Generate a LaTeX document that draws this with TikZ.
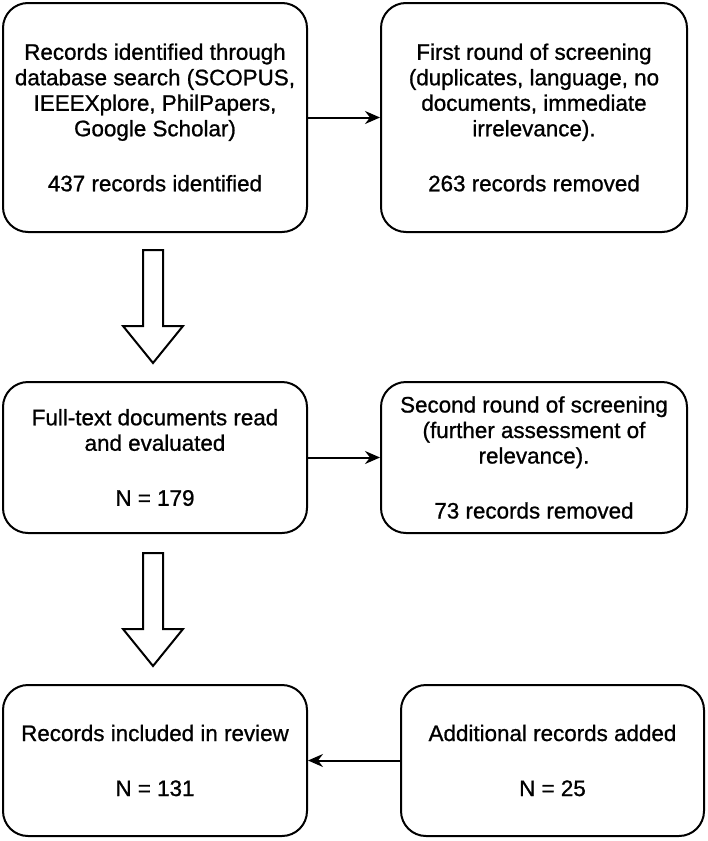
\documentclass[tikz,border=0pt]{standalone}
\usepackage{fontspec}
\setmainfont{Liberation Sans}[FakeBold=0.9]
\usetikzlibrary{arrows.meta}
\tikzset{
  box/.style={draw, line width=2pt, rounded corners=25pt, align=center,
    font=\fontsize{22.4pt}{25.5pt}\selectfont, inner sep=0pt, fill=white},
  conn/.style={line width=2pt, -{Stealth[length=15pt,width=13pt,inset=5pt]}},
  hollow/.style={draw, line width=2pt, fill=white, line join=miter}
}
\begin{document}
\begin{tikzpicture}[x=1pt,y=-1pt]
\useasboundingbox (0,0) rectangle (708,841);
\node[box, minimum width=304pt, minimum height=229pt] (A) at (155,117.5)
  {Records identified through\\database search (SCOPUS,\\IEEEXplore, PhilPapers,\\Google Scholar)\\[29.5pt]437 records identified};
\node[box, minimum width=306pt, minimum height=229pt] (B) at (534,117.5)
  {First round of screening\\(duplicates, language, no\\documents, immediate\\irrelevance).\\[29.5pt]263 records removed};
\node[box, minimum width=304pt, minimum height=151pt] (C) at (155,457.5)
  {Full-text documents read\\and evaluated\\[29.5pt]N = 179};
\node[box, minimum width=306pt, minimum height=151pt] (D) at (534,457.5)
  {Second round of screening\\(further assessment of\\relevance).\\[29.5pt]73 records removed};
\node[box, minimum width=304pt, minimum height=151pt] (E) at (155,760.5)
  {Records included in review\\[29.5pt]N = 131};
\node[box, minimum width=303pt, minimum height=151pt] (F) at (552.5,760.5)
  {Additional records added\\[29.5pt]N = 25};
\draw[conn] (A.east) -- (B.west);
\draw[conn] (C.east) -- (D.west);
\draw[conn] (F.west) -- (E.east);
% hollow block arrows
\draw[hollow] (143,250) -- (163,250) -- (163,326) -- (183,326) -- (153,363)
  -- (123,326) -- (143,326) -- cycle;
\draw[hollow] (143,553) -- (163,553) -- (163,629) -- (183,629) -- (153,666)
  -- (123,629) -- (143,629) -- cycle;
\end{tikzpicture}
\end{document}
